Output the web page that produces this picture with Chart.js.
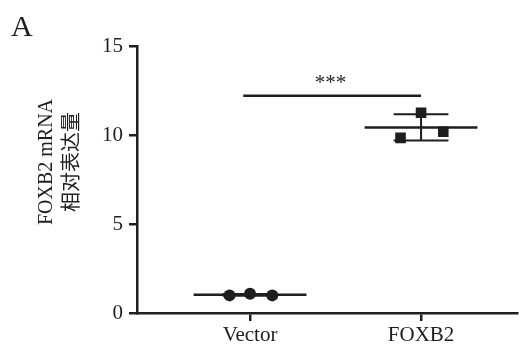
<!DOCTYPE html>
<html>
<head>
<meta charset="utf-8">
<script src="https://cdn.jsdelivr.net/npm/chart.js@4/dist/chart.umd.min.js"></script>
<style>
html,body{margin:0;padding:0;background:#fff;}
#wrap{width:525px;height:346px;position:relative;}
</style>
</head>
<body>
<div id="wrap"><canvas id="c" width="525" height="346"></canvas></div>
<script>
// ---- data ----
const categories = ["Vector", "FOXB2"];
const vectorValues = [0.99, 1.08, 0.99];
const foxb2Values = [9.84, 11.25, 10.18];
const jitter = [-0.12, 0.0, 0.13];
const yTicks = [0, 5, 10, 15];
const sigLabel = "***";
const sigLevel = 12.2;
const yTitleLines = ["FOXB2 mRNA", "相对表达量"];
const panelLabel = "A";

const INK = "#1e1e1e";
const SERIF = "'Liberation Serif', 'Times New Roman', 'Noto Sans CJK SC', serif";

function mean(a){return a.reduce((s,v)=>s+v,0)/a.length;}
function sd(a){const m=mean(a);return Math.sqrt(a.reduce((s,v)=>s+(v-m)*(v-m),0)/(a.length-1));}

const groups = [vectorValues, foxb2Values];
const pointStyles = ["circle", "rect"];

const datasets = [];
groups.forEach((vals, gi) => {
  const xc = gi + 1;
  const m = mean(vals), s = sd(vals);
  datasets.push({type:'scatter', showLine:true, data:[{x:xc-0.33,y:m},{x:xc+0.33,y:m}],
    borderColor:INK, borderWidth:2.5, pointRadius:0, order:3});
  datasets.push({type:'scatter', showLine:true, data:[{x:xc-0.16,y:m+s},{x:xc+0.16,y:m+s}],
    borderColor:INK, borderWidth:2, pointRadius:0, order:3});
  datasets.push({type:'scatter', showLine:true, data:[{x:xc-0.16,y:m-s},{x:xc+0.16,y:m-s}],
    borderColor:INK, borderWidth:2, pointRadius:0, order:3});
  datasets.push({type:'scatter', showLine:true, data:[{x:xc,y:m-s},{x:xc,y:m+s}],
    borderColor:INK, borderWidth:2, pointRadius:0, order:3});
  datasets.push({type:'scatter', label:categories[gi],
    data: vals.map((v,i)=>({x:xc+jitter[i], y:v})),
    pointStyle:pointStyles[gi], pointRadius: gi===0 ? 6 : 7.5,
    backgroundColor:INK, borderColor:INK, borderWidth:0, order:1});
});
datasets.push({type:'scatter', showLine:true, data:[{x:0.96,y:sigLevel},{x:2.0,y:sigLevel}],
  borderColor:INK, borderWidth:2.5, pointRadius:0, order:3});

const annot = {
  id:'annot',
  afterDraw(chart){
    const ctx = chart.ctx;
    const xs = chart.scales.x, ys = chart.scales.y;
    ctx.save();
    ctx.fillStyle = INK;
    ctx.font = "21px " + SERIF;
    ctx.textAlign = 'center';
    ctx.textBaseline = 'middle';
    ctx.fillText(sigLabel, xs.getPixelForValue(1.47), ys.getPixelForValue(sigLevel) - 12);
    ctx.font = "30px " + SERIF;
    ctx.textAlign = 'left';
    ctx.textBaseline = 'alphabetic';
    ctx.fillText(panelLabel, 11, 36);
    ctx.translate(0, 162);
    ctx.rotate(-Math.PI/2);
    ctx.textAlign = 'center';
    ctx.textBaseline = 'middle';
    ctx.font = "20px " + SERIF;
    ctx.fillText(yTitleLines[0], 0, 47);
    ctx.font = "20px 'Noto Sans CJK SC', " + SERIF;
    ctx.fillText(yTitleLines[1], 0, 70);
    ctx.restore();
  }
};

new Chart(document.getElementById('c'), {
  type:'scatter',
  data:{datasets},
  options:{
    responsive:false,
    animation:false,
    devicePixelRatio:1,
    layout:{padding:{top:46, right:2, left:0, bottom:0}},
    plugins:{legend:{display:false}, tooltip:{enabled:false}},
    scales:{
      x:{
        type:'linear', min:0.339, max:2.564,
        afterBuildTicks(scale){ scale.ticks = categories.map((c,i)=>({value:i+1})); },
        afterFit(scale){ scale.height = 33; scale.paddingLeft = 0; scale.paddingRight = 0; },
        ticks:{ color:INK, padding:2, font:{family:SERIF, size:21},
          callback:(v)=>categories[v-1] ?? '' , autoSkip:false, maxRotation:0},
        grid:{drawOnChartArea:false, drawTicks:true, tickLength:8, tickColor:INK, lineWidth:2.5},
        border:{color:INK, width:2.5}
      },
      y:{
        min:0, max:15,
        afterBuildTicks(scale){ scale.ticks = yTicks.map(v=>({value:v})); },
        afterFit(scale){ scale.width = 137; scale.paddingTop = 0; scale.paddingBottom = 0; },
        ticks:{ color:INK, padding:6, font:{family:SERIF, size:21}},
        grid:{drawOnChartArea:false, drawTicks:true, tickLength:8, tickColor:INK, lineWidth:2.5},
        border:{color:INK, width:2.5}
      }
    }
  },
  plugins:[annot]
});
</script>
</body>
</html>
